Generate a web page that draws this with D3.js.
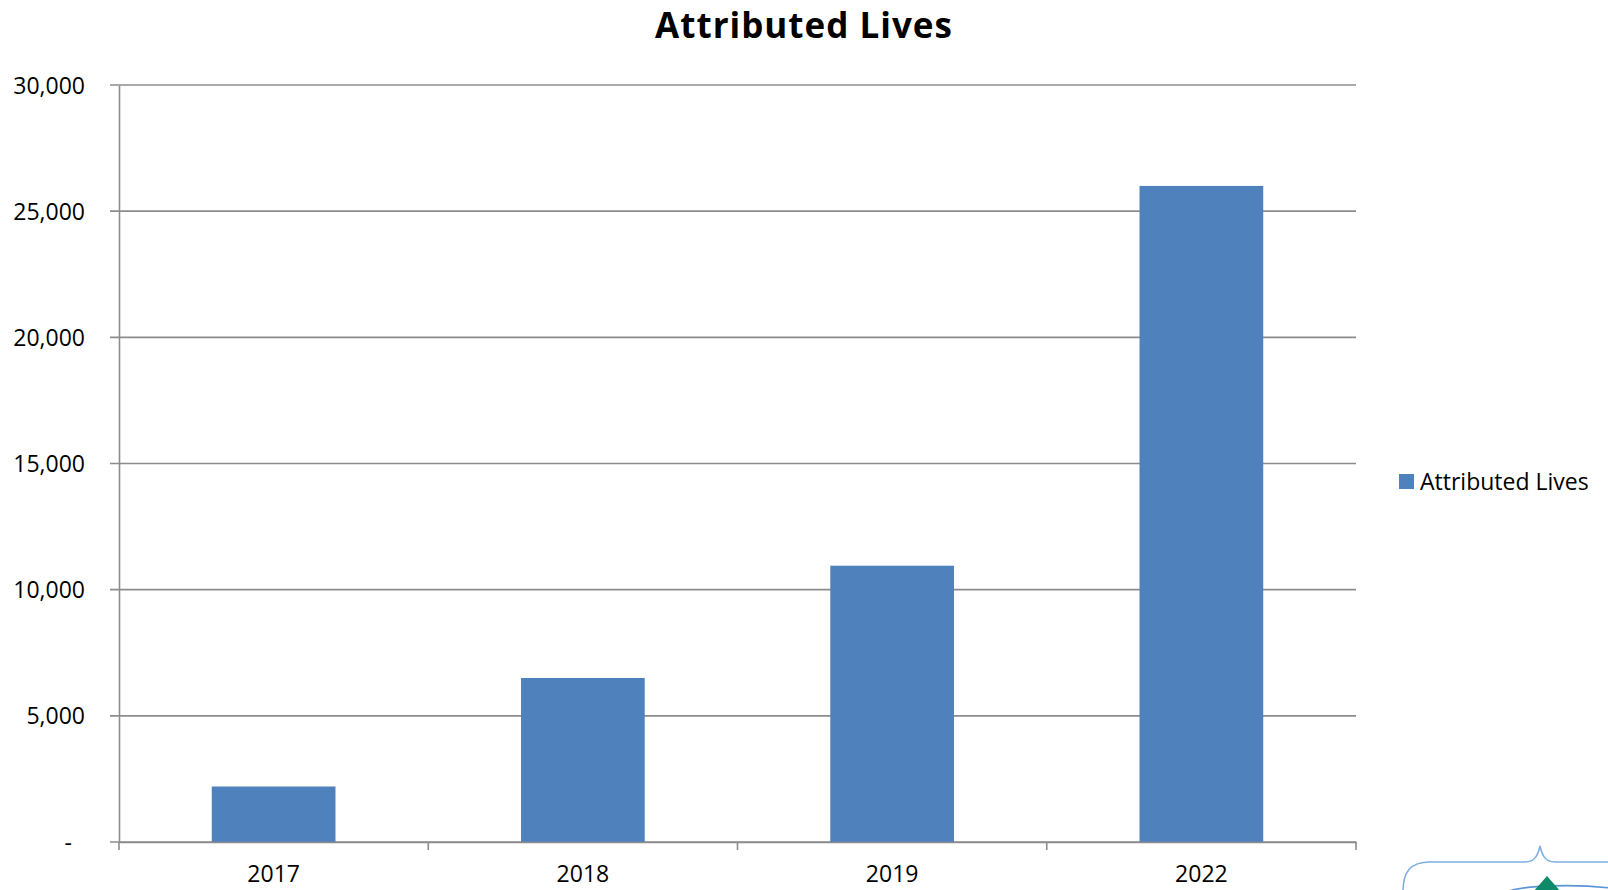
<!DOCTYPE html>
<html>
<head>
<meta charset="utf-8">
<script src="https://cdn.jsdelivr.net/npm/d3@7"></script>
<style>
  body { margin: 0; background: #fff; }
  svg { display: block; font-family: "Open Sans", sans-serif; }
</style>
</head>
<body>
<div id="chart"></div>
<script>
// chart values
const years = ["2017", "2018", "2019", "2022"];
const lives = [2200, 6500, 10950, 26000];
const yTicks = [0, 5000, 10000, 15000, 20000, 25000, 30000];
const seriesName = "Attributed Lives";

const width = 1608, height = 890;
const margin = {top: 85, right: 252, bottom: 48, left: 119};

const svg = d3.select("#chart")
  .append("svg")
  .attr("width", width)
  .attr("height", height);

const xScale = d3.scaleBand()
  .domain(years)
  .range([margin.left, width - margin.right])
  .paddingInner(0.6)
  .paddingOuter(0.3);

const yScale = d3.scaleLinear()
  .domain([0, 30000])
  .range([height - margin.bottom, margin.top]);

// gridlines
svg.append("g")
  .selectAll("line")
  .data(yTicks)
  .enter()
  .append("line")
  .attr("x1", margin.left - 9)
  .attr("x2", width - margin.right)
  .attr("y1", d => yScale(d))
  .attr("y2", d => yScale(d))
  .attr("stroke", "#8c8c8c")
  .attr("stroke-width", 1.6);

// y axis
const fmt = d3.format(",");
const yAxis = svg.append("g")
  .attr("transform", `translate(${margin.left}, 0)`)
  .call(d3.axisLeft(yScale).tickValues(yTicks).tickSize(0).tickPadding(34)
    .tickFormat(d => d === 0 ? "-" : fmt(d)));
yAxis.select(".domain").attr("stroke", "#8c8c8c").attr("stroke-width", 1.6);
yAxis.selectAll("text")
  .attr("font-size", "23px")
  .attr("fill", "#000")
  .attr("font-family", "Open Sans, sans-serif")
  .attr("dy", "0.35em");
yAxis.selectAll("text").filter(d => d === 0).attr("dx", "-13px");

// bars
svg.selectAll(".bar")
  .data(lives)
  .enter()
  .append("rect")
  .attr("class", "bar")
  .attr("x", (d, i) => xScale(years[i]))
  .attr("width", xScale.bandwidth())
  .attr("y", d => yScale(d))
  .attr("height", d => yScale(0) - yScale(d))
  .attr("fill", "#4f81bd");

// x axis
const xBand = d3.scaleBand().domain(years).range([margin.left, width - margin.right]);
const xAxis = svg.append("g")
  .attr("transform", `translate(0, ${height - margin.bottom})`)
  .call(d3.axisBottom(xBand).tickSize(0).tickPadding(24));
xAxis.select(".domain").attr("stroke", "#8c8c8c").attr("stroke-width", 1.6);
xAxis.selectAll("text")
  .attr("font-size", "23px")
  .attr("fill", "#000")
  .attr("font-family", "Open Sans, sans-serif");

// category separators ticks
const sepX = years.map(y => xBand(y)).concat([width - margin.right]);
svg.append("g")
  .selectAll("line")
  .data(sepX)
  .enter()
  .append("line")
  .attr("x1", d => d).attr("x2", d => d)
  .attr("y1", yScale(0)).attr("y2", yScale(0) + 8)
  .attr("stroke", "#8c8c8c")
  .attr("stroke-width", 1.6);

// title
svg.append("text")
  .attr("x", 804)
  .attr("y", 38)
  .attr("text-anchor", "middle")
  .attr("font-size", "35px")
  .attr("font-weight", "bold")
  .attr("letter-spacing", "1px")
  .text(seriesName);

// legend
svg.append("rect")
  .attr("x", 1399).attr("y", 474)
  .attr("width", 15).attr("height", 15)
  .attr("fill", "#4f81bd");
svg.append("text")
  .attr("x", 1420).attr("y", 490)
  .attr("font-size", "23px")
  .text(seriesName);

// logo fragment in corner
svg.append("path")
  .attr("d", "M1403,892 C1403,872 1410,862 1430,862 L1525,862 C1535,862 1538,855 1540,846 C1542,855 1545,862 1555,862 L1610,862")
  .attr("fill", "none")
  .attr("stroke", "#7fb0e0")
  .attr("stroke-width", 1.6);
svg.append("path")
  .attr("d", "M1505,892 C1525,885 1575,884 1610,888")
  .attr("fill", "none")
  .attr("stroke", "#5a93d6")
  .attr("stroke-width", 1.6);
svg.append("path")
  .attr("d", "M1547,876 L1561,892 L1533,892 Z")
  .attr("fill", "#0e8a6a");
</script>
</body>
</html>
